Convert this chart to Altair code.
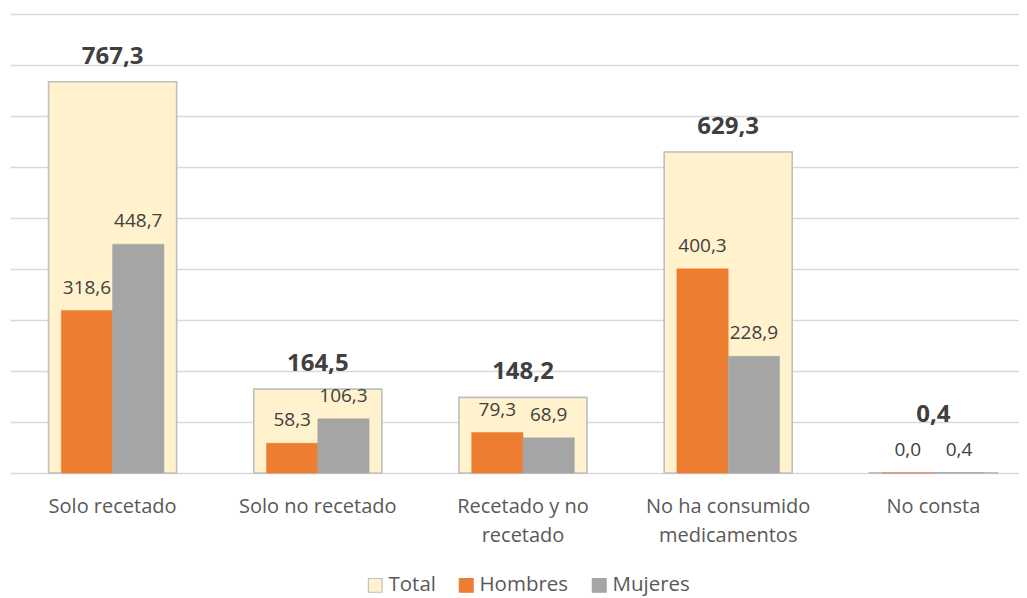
import altair as alt
import pandas as pd

categories = ["Solo recetado", "Solo no recetado", "Recetado y no recetado",
              "No ha consumido medicamentos", "No consta"]
total = [767.3, 164.5, 148.2, 629.3, 0.4]
hombres = [318.6, 58.3, 79.3, 400.3, 0.0]
mujeres = [448.7, 106.3, 68.9, 228.9, 0.4]
series = ["Total", "Hombres", "Mujeres"]
fills = ["#FFF2CC", "#ED7D31", "#A5A5A5"]
strokes = ["#BFBFBF", "#ED7D31", "#A5A5A5"]


def fmt(v):
    return f"{v:.1f}".replace(".", ",")


tot_df = pd.DataFrame({"cat": categories, "serie": "Total", "valor": total,
                       "label": [fmt(v) for v in total]})
sub_df = pd.DataFrame({"cat": categories * 2,
                       "serie": ["Hombres"] * 5 + ["Mujeres"] * 5,
                       "valor": hombres + mujeres,
                       "label": [fmt(v) for v in hombres + mujeres]})

FONT = "Open Sans"

x_enc = alt.X("cat:N", sort=categories,
              scale=alt.Scale(range=[0, 1026], paddingInner=0, paddingOuter=0),
              axis=alt.Axis(title=None, domain=False, ticks=False, labelFontSize=20,
                            labelColor="#595959", labelFont=FONT, labelPadding=23,
                            labelLineHeight=29, labelLimit=0, labelAngle=0,
                            labelExpr="datum.label == 'Recetado y no recetado' ? ['Recetado y no', 'recetado'] : datum.label == 'No ha consumido medicamentos' ? ['No ha consumido', 'medicamentos'] : datum.label"))
y_enc = alt.Y("valor:Q", scale=alt.Scale(domain=[0, 900]),
              axis=alt.Axis(title=None, labels=False, ticks=False, domain=False,
                            values=list(range(0, 1000, 100)), gridColor="#D9D9D9",
                            gridWidth=1.5))

legend = alt.Legend(title=None, orient="none", legendX=355, legendY=561,
                    direction="horizontal", symbolType="square",
                    symbolSize=190, labelFontSize=20.5, labelFont=FONT,
                    labelColor="#595959", labelOffset=3,
                    columnPadding=20, padding=0, symbolStrokeWidth=1.2)
color_enc = alt.Color("serie:N", scale=alt.Scale(domain=series, range=fills), legend=legend)
stroke_enc = alt.Stroke("serie:N", scale=alt.Scale(domain=series, range=strokes), legend=legend)

xoff = alt.XOffset("serie:N", scale=alt.Scale(domain=["Hombres", "Mujeres"],
                                               paddingInner=0, paddingOuter=1))

tot_bars = alt.Chart(tot_df).mark_bar(strokeWidth=1.6, width=alt.RelativeBandSize(0.624)).encode(
    x=x_enc, y=y_enc, color=color_enc, stroke=stroke_enc)

sub_bars = alt.Chart(sub_df).mark_bar(strokeWidth=0.5).encode(
    x=x_enc, y=y_enc, xOffset=xoff, color=color_enc, stroke=stroke_enc)

sub_text = alt.Chart(sub_df).mark_text(dy=-23, fontSize=19, font=FONT, color="#404040",
                                       baseline="middle").encode(
    x=x_enc, y=y_enc, xOffset=xoff, text="label:N")

tot_text = alt.Chart(tot_df).transform_filter("datum.cat != 'No consta'").mark_text(
    dy=-25, fontSize=24, font=FONT, fontWeight="bold", color="#404040", baseline="middle").encode(
    x=x_enc, y=y_enc, text="label:N")

tot_text_nc = alt.Chart(tot_df).transform_filter("datum.cat == 'No consta'").mark_text(
    dy=-58, fontSize=24, font=FONT, fontWeight="bold", color="#404040", baseline="middle").encode(
    x=x_enc, y=y_enc, text="label:N")

chart = alt.layer(tot_bars, sub_bars, sub_text, tot_text, tot_text_nc).properties(
    width=1009, height=459, padding={"left": 2, "top": 6, "right": 0, "bottom": 125},
    autosize=alt.AutoSizeParams(type="none"),
    background="white"
).configure_view(stroke=None)

chart.save("out.html", embed_options={"renderer": "svg", "actions": False})
